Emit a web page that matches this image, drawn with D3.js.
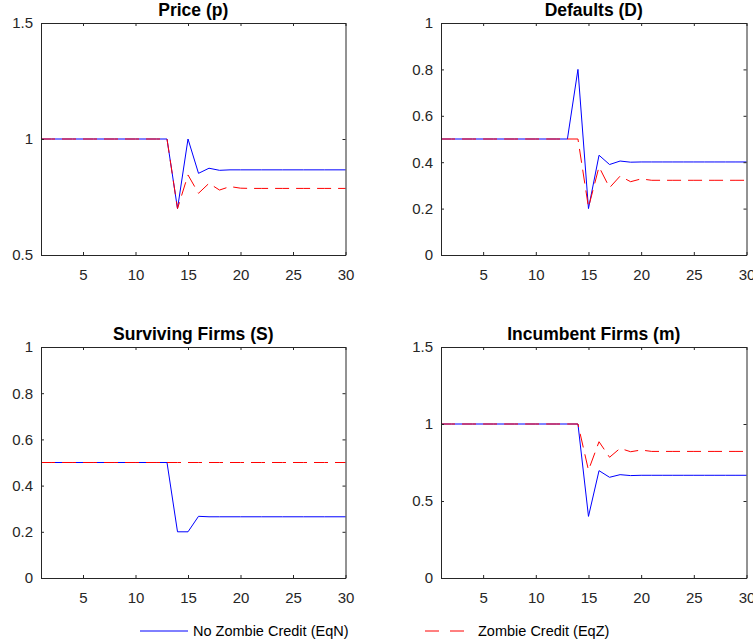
<!DOCTYPE html>
<html><head><meta charset="utf-8">
<script src="https://cdn.jsdelivr.net/npm/d3@7"></script>
<style>body{margin:0;background:#fff;} svg{display:block;font-family:"Liberation Sans",Arial,Helvetica,sans-serif;}</style>
</head><body>
<svg id="c" width="753" height="644"></svg>
<script>
const periods = d3.range(1, 31);
const flat = (v, n) => Array(n).fill(v);

const priceEqN = [...flat(1, 13), 0.70, 1.00, 0.852, 0.874, 0.865, 0.867, 0.867, ...flat(0.867, 10)];
const priceEqZ = [...flat(1, 13), 0.70, 0.845, 0.766, 0.809, 0.78, 0.795, 0.788, ...flat(0.787, 10)];
const defaultsEqN = [...flat(0.5, 13), 0.80, 0.20, 0.43, 0.39, 0.405, 0.40, 0.401, ...flat(0.401, 10)];
const defaultsEqZ = [...flat(0.5, 14), 0.205, 0.38, 0.29, 0.34, 0.316, 0.328, ...flat(0.322, 10)];
const survivingEqN = [...flat(0.5, 13), 0.20, 0.20, 0.267, 0.265, 0.265, 0.265, 0.265, ...flat(0.265, 10)];
const survivingEqZ = flat(0.5, 30);
const incumbentEqN = [...flat(1, 14), 0.40, 0.697, 0.654, 0.671, 0.665, 0.667, ...flat(0.667, 10)];
const incumbentEqZ = [...flat(1, 14), 0.70, 0.885, 0.784, 0.842, 0.82, 0.831, ...flat(0.822, 10)];

const xTicks = [5, 10, 15, 20, 25, 30];
const panelTitles = ["Price (p)", "Defaults (D)", "Surviving Firms (S)", "Incumbent Firms (m)"];
const yDomains = [[0.5, 1.5], [0, 1], [0, 1], [0, 1.5]];
const yTickLists = [[0.5, 1, 1.5], [0, 0.2, 0.4, 0.6, 0.8, 1], [0, 0.2, 0.4, 0.6, 0.8, 1], [0, 0.5, 1, 1.5]];
const seriesNames = ["No Zombie Credit (EqN)", "Zombie Credit (EqZ)"];
const panelData = [[priceEqN, priceEqZ], [defaultsEqN, defaultsEqZ], [survivingEqN, survivingEqZ], [incumbentEqN, incumbentEqZ]];

const svg = d3.select("#c");
const axisCol = "#262626";
const colors = ["#0000ff", "#ff0000"];
const dashes = [null, "14,7"];
const boxes = [
  {x0: 41, x1: 345.5, y0: 23, y1: 255},
  {x0: 441, x1: 746.5, y0: 23, y1: 255},
  {x0: 41, x1: 345.5, y0: 347, y1: 578},
  {x0: 441, x1: 746.5, y0: 347, y1: 578}
];

boxes.forEach((b, i) => {
  const x = d3.scaleLinear().domain([1, 30]).range([b.x0, b.x1]);
  const y = d3.scaleLinear().domain(yDomains[i]).range([b.y1, b.y0]);
  const g = svg.append("g");
  panelData[i].forEach((s, k) => {
    g.append("path").datum(s)
      .attr("fill", "none").attr("stroke", colors[k]).attr("stroke-width", 1)
      .attr("stroke-dasharray", dashes[k])
      .attr("d", d3.line().x((d, j) => x(periods[j])).y(d => y(d)));
  });
  const tl = 3;
  const ax = g.append("g").attr("transform", `translate(0,${b.y1})`)
    .call(d3.axisBottom(x).tickValues(xTicks).tickSizeInner(-tl).tickSizeOuter(0).tickPadding(14));
  const axT = g.append("g").attr("transform", `translate(0,${b.y0})`)
    .call(d3.axisTop(x).tickValues(xTicks).tickSizeInner(-tl).tickSizeOuter(0).tickFormat(""));
  const ay = g.append("g").attr("transform", `translate(${b.x0},0)`)
    .call(d3.axisLeft(y).tickValues(yTickLists[i]).tickSizeInner(-tl).tickSizeOuter(0).tickPadding(8).tickFormat(d => String(d)));
  const ayR = g.append("g").attr("transform", `translate(${b.x1},0)`)
    .call(d3.axisRight(y).tickValues(yTickLists[i]).tickSizeInner(-tl).tickSizeOuter(0).tickFormat(""));
  [ax, axT, ay, ayR].forEach(a => {
    a.selectAll("path,line").attr("stroke", axisCol).attr("stroke-width", 1);
    a.selectAll("text").attr("fill", axisCol).style("font-size", "15px").style("font-family", "Liberation Sans, Arial, sans-serif");
  });
  g.append("text").attr("x", (b.x0 + b.x1) / 2).attr("y", b.y0 - 7)
    .attr("text-anchor", "middle").style("font-size", "17.5px").style("font-weight", "bold")
    .attr("fill", "#000").text(panelTitles[i]);
});

const leg = [{x1: 140, x2: 188, tx: 193}, {x1: 425, x2: 467, tx: 478}];
leg.forEach((l, k) => {
  svg.append("line").attr("x1", l.x1).attr("x2", l.x2).attr("y1", 631).attr("y2", 631)
    .attr("stroke", colors[k]).attr("stroke-width", 1).attr("stroke-dasharray", k ? "14,11" : null);
  svg.append("text").attr("x", l.tx).attr("y", 636).style("font-size", "14.5px").attr("fill", "#000")
    .text(seriesNames[k]);
});
</script>
</body></html>
